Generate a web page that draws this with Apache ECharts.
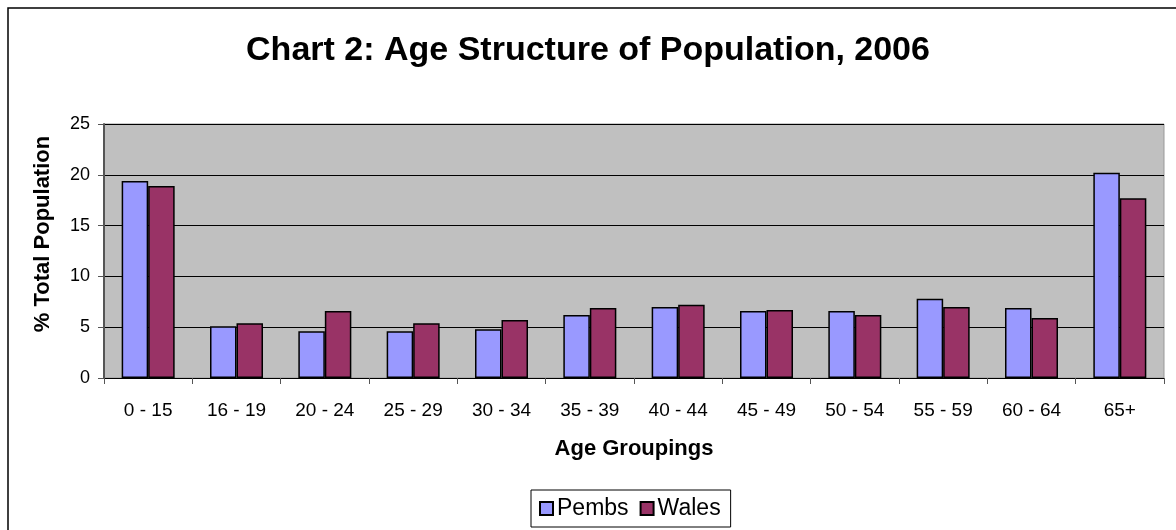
<!DOCTYPE html>
<html>
<head>
<meta charset="utf-8">
<script src="https://cdn.jsdelivr.net/npm/echarts@6/dist/echarts.min.js"></script>
<style>
html, body { margin: 0; padding: 0; background: #fff; }
#chart { width: 1176px; height: 530px; }
</style>
</head>
<body>
<div id="chart"></div>
<script>
// age groups along the x axis
var ageGroups = ['0 - 15', '16 - 19', '20 - 24', '25 - 29', '30 - 34', '35 - 39',
  '40 - 44', '45 - 49', '50 - 54', '55 - 59', '60 - 64', '65+']
// % of total population
var pembs = [19.4, 5.1, 4.6, 4.6, 4.8, 6.2, 7.0, 6.6, 6.6, 7.8, 6.9, 20.2]
var wales = [18.9, 5.4, 6.6, 5.4, 5.7, 6.9, 7.2, 6.7, 6.2, 7.0, 5.9, 17.7]

var font = 'Arial, "Liberation Sans", sans-serif'
var myChart = echarts.init(document.getElementById('chart'))
myChart.setOption({
  animation: false,
  color: ['#9999ff', '#993366'],
  title: {
    text: 'Chart 2: Age Structure of Population, 2006',
    left: 'center',
    top: 29,
    textStyle: { fontFamily: font, fontSize: 34, fontWeight: 'bold', color: '#000' }
  },
  graphic: [{
    type: 'rect',
    shape: { x: 8, y: 8, width: 1200, height: 560 },
    style: { fill: null, stroke: '#000', lineWidth: 1.5 },
    silent: true
  }],
  legend: {
    data: ['Pembs', 'Wales'],
    bottom: 3,
    left: 531,
    itemWidth: 13,
    itemHeight: 13,
    itemGap: 11,
    padding: [7, 10, 7, 8],
    borderColor: '#000',
    borderWidth: 1,
    icon: 'rect',
    textStyle: { fontFamily: font, fontSize: 23, color: '#000', padding: [0, 0, 0, -1] }
  },
  grid: {
    left: 104,
    right: 12,
    top: 124,
    bottom: 152,
    show: true,
    backgroundColor: '#c0c0c0',
    borderColor: '#999',
    borderWidth: 1
  },
  xAxis: {
    type: 'category',
    data: ageGroups,
    name: 'Age Groupings',
    nameLocation: 'middle',
    nameGap: 60,
    nameTextStyle: { fontFamily: font, fontSize: 22, fontWeight: 'bold', color: '#000' },
    axisLine: { lineStyle: { color: '#000', width: 1 } },
    axisTick: { show: true, length: 6, lineStyle: { color: '#555' } },
    axisLabel: { fontFamily: font, fontSize: 19, color: '#000', margin: 23 }
  },
  yAxis: {
    type: 'value',
    min: 0,
    max: 25,
    interval: 5,
    name: '% Total Population',
    nameLocation: 'middle',
    nameGap: 50,
    nameTextStyle: { fontFamily: font, fontSize: 22, fontWeight: 'bold', color: '#000', padding: [0, 0, 0, 34] },
    axisLine: { show: true, lineStyle: { color: '#555', width: 2 } },
    axisTick: { show: true, length: 6, lineStyle: { color: '#555' } },
    axisLabel: { fontFamily: font, fontSize: 18, color: '#000', margin: 14 },
    splitLine: { show: true, lineStyle: { color: '#000', width: 1 } }
  },
  series: [{
    name: 'Pembs',
    type: 'bar',
    data: pembs,
    barGap: '0%',
    barCategoryGap: '40%',
    itemStyle: { borderColor: '#000', borderWidth: 1.5 }
  }, {
    name: 'Wales',
    type: 'bar',
    data: wales,
    itemStyle: { borderColor: '#000', borderWidth: 1.5 }
  }]
})
</script>
</body>
</html>
